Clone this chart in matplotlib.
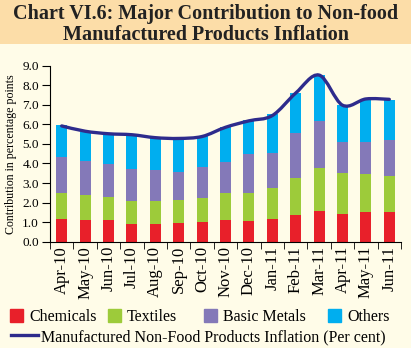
import numpy as np
import matplotlib
matplotlib.use('Agg')
import matplotlib.pyplot as plt
from matplotlib.path import Path
from matplotlib.patches import PathPatch, Patch, Rectangle
from matplotlib.lines import Line2D

months = ['Apr-10', 'May-10', 'Jun-10', 'Jul-10', 'Aug-10', 'Sep-10', 'Oct-10', 'Nov-10',
          'Dec-10', 'Jan-11', 'Feb-11', 'Mar-11', 'Apr-11', 'May-11', 'Jun-11']
chemicals = [1.16, 1.09, 1.09, 0.89, 0.89, 0.96, 1.01, 1.11, 1.06, 1.16, 1.37, 1.57, 1.40, 1.52, 1.52]
textiles = [1.31, 1.28, 1.18, 1.21, 1.21, 1.15, 1.21, 1.36, 1.41, 1.57, 1.87, 2.18, 2.10, 1.93, 1.83]
basic_metals = [1.84, 1.77, 1.72, 1.63, 1.57, 1.47, 1.61, 1.62, 2.00, 1.82, 2.33, 2.44, 1.60, 1.65, 1.87]
others = [1.64, 1.45, 1.50, 1.67, 1.61, 1.67, 1.57, 1.79, 1.75, 1.98, 2.05, 2.33, 1.89, 2.20, 2.03]
inflation = [5.92, 5.65, 5.52, 5.47, 5.32, 5.28, 5.38, 5.85, 6.18, 6.45, 7.60, 8.52, 6.98, 7.30, 7.28]
series_names = ['Chemicals', 'Textiles', 'Basic Metals', 'Others']
line_name = 'Manufactured Non-Food Products Inflation (Per cent)'

c_chem = '#E8202A'
c_tex = '#9DCB3A'
c_met = '#8479B8'
c_oth = '#00AEEF'
c_line = '#2E2B8C'
cream = '#FFFCE8'

plt.rcParams['font.family'] = 'Liberation Serif'
fig = plt.figure(figsize=(4.11, 3.48), dpi=100, facecolor=cream)

# title band
fig.patches.append(Rectangle((0, 1 - 44 / 348), 1, 44 / 348, transform=fig.transFigure,
                             facecolor='#FCDDA8', edgecolor='none', zorder=0))
fig.text(0.5, 1 - 14 / 348, 'Chart VI.6: Major Contribution to Non-food', ha='center', va='center',
         fontsize=14.5, fontweight='bold', color='#222222')
fig.text(0.5, 1 - 35 / 348, 'Manufactured Products Inflation', ha='center', va='center',
         fontsize=14.5, fontweight='bold', color='#222222')

ax = fig.add_axes([50 / 411, 1 - 241.7 / 348, 351 / 411, 176 / 348])
ax.set_facecolor(cream)
x = np.arange(len(months))
w = 0.47
b1 = np.array(chemicals)
b2 = b1 + np.array(textiles)
b3 = b2 + np.array(basic_metals)
ax.bar(x, chemicals, w, color=c_chem)
ax.bar(x, textiles, w, bottom=b1, color=c_tex)
ax.bar(x, basic_metals, w, bottom=b2, color=c_met)
ax.bar(x, others, w, bottom=b3, color=c_oth)

# smoothed line (Catmull-Rom as cubic Bezier)
pts = np.column_stack([x, inflation]).astype(float)
verts = [pts[0]]
codes = [Path.MOVETO]
for i in range(len(pts) - 1):
    p0 = pts[i - 1] if i > 0 else pts[i]
    p1, p2 = pts[i], pts[i + 1]
    p3 = pts[i + 2] if i + 2 < len(pts) else pts[i + 1]
    verts += [p1 + (p2 - p0) / 6, p2 - (p3 - p1) / 6, p2]
    codes += [Path.CURVE4] * 3
ax.add_patch(PathPatch(Path(verts, codes), facecolor='none', edgecolor=c_line, lw=2.4,
                       capstyle='round', zorder=5))

ax.set_xlim(-0.5, len(months) - 0.5)
ax.set_ylim(0, 9)
ax.set_yticks(np.arange(0, 9.1, 1))
ax.set_yticklabels(['%.1f' % v for v in np.arange(0, 9.1, 1)], fontsize=9.5)
ax.set_xticks(x)
ax.set_xticklabels(months, rotation=90, fontsize=12)
ax.set_xticks(np.arange(-0.5, len(months), 1), minor=True)
ax.tick_params(axis='x', which='major', length=0, pad=3)
ax.tick_params(axis='x', which='minor', length=5, direction='out')
ax.tick_params(axis='y', length=6, direction='out', pad=2)
for s in ['top', 'right']:
    ax.spines[s].set_visible(False)
ax.set_ylabel('Contribution in percentage points', fontsize=8.6, labelpad=4)

# legend entries placed where the reference has them
colors = [c_chem, c_tex, c_met, c_oth]
legend_x = [10, 108, 204, 328]
for name, col, lx in zip(series_names, colors, legend_x):
    fig.legend([Patch(color=col)], [name], loc='center left',
               bbox_to_anchor=(lx / 411, 1 - 317 / 348), frameon=False,
               fontsize=11.5, handlelength=0.8, handleheight=0.8, handletextpad=0.4,
               borderpad=0, borderaxespad=0)
fig.legend([Line2D([], [], color=c_line, lw=2.4)], [line_name],
           loc='center left', bbox_to_anchor=(11 / 411, 1 - 337 / 348), frameon=False,
           fontsize=11.5, handlelength=1.7, handletextpad=0.15, borderpad=0, borderaxespad=0)

fig.savefig('out.png', dpi=100, facecolor=cream)
